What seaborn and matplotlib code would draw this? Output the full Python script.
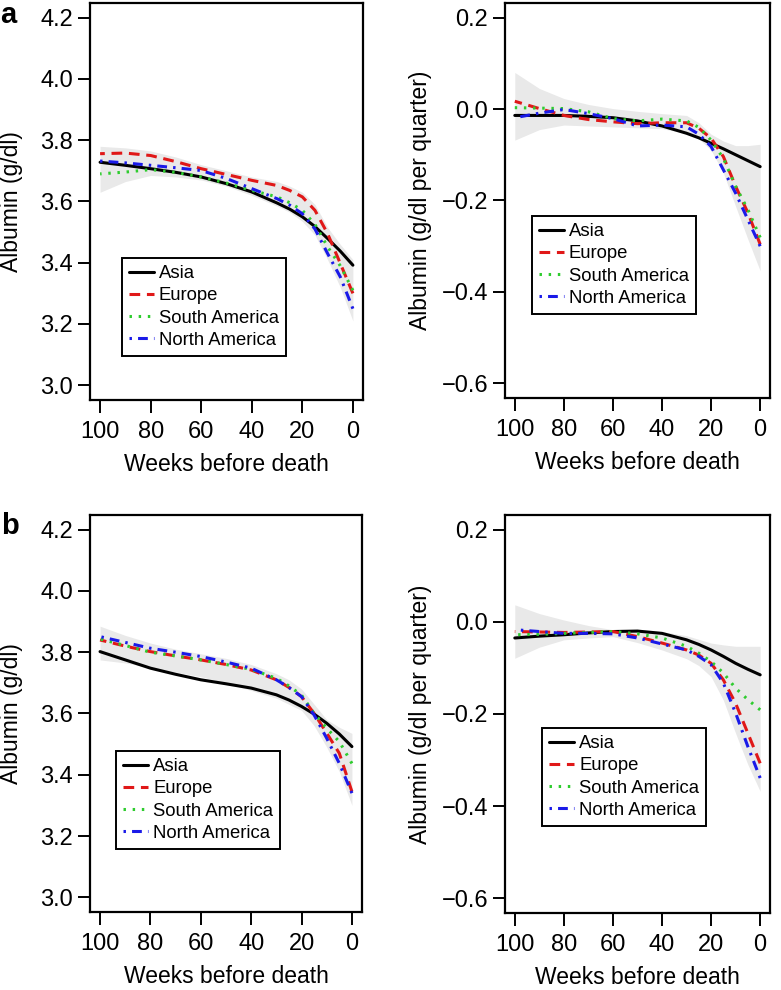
import pandas as pd
import matplotlib
matplotlib.use("Agg")
import matplotlib.pyplot as plt
import seaborn as sns

sns.set_style("ticks")
plt.rcParams["font.family"] = ["Liberation Sans", "DejaVu Sans"]
plt.rcParams.update({"text.color": "black", "axes.labelcolor": "black",
                     "xtick.color": "black", "ytick.color": "black"})

# weeks before death (x positions of the read-off points)
weeks = [100, 90, 80, 70, 60, 50, 40, 30, 25, 20, 15, 10, 5, 0]
regions = ["Asia", "Europe", "South America", "North America"]

# panel a, left: albumin level (g/dl)
a_lvl_asia = [3.728, 3.718, 3.707, 3.695, 3.680, 3.658, 3.631, 3.595, 3.575, 3.550, 3.518, 3.479, 3.438, 3.392]
a_lvl_europe = [3.756, 3.758, 3.750, 3.730, 3.707, 3.688, 3.669, 3.652, 3.636, 3.615, 3.571, 3.495, 3.398, 3.300]
a_lvl_samerica = [3.690, 3.696, 3.704, 3.695, 3.680, 3.660, 3.636, 3.615, 3.596, 3.571, 3.525, 3.452, 3.390, 3.310]
a_lvl_namerica = [3.732, 3.726, 3.718, 3.710, 3.701, 3.675, 3.642, 3.609, 3.588, 3.560, 3.510, 3.430, 3.354, 3.250]
a_lvl_lo = [3.63, 3.665, 3.685, 3.68, 3.67, 3.65, 3.62, 3.585, 3.565, 3.535, 3.49, 3.41, 3.32, 3.21]
a_lvl_hi = [3.78, 3.775, 3.765, 3.745, 3.72, 3.70, 3.68, 3.665, 3.65, 3.63, 3.59, 3.515, 3.46, 3.41]

# panel a, right: albumin slope (g/dl per quarter)
a_slp_asia = [-0.014, -0.014, -0.014, -0.016, -0.019, -0.026, -0.037, -0.053, -0.063, -0.075, -0.087, -0.100, -0.113, -0.126]
a_slp_europe = [0.017, 0.001, -0.014, -0.023, -0.028, -0.032, -0.030, -0.030, -0.042, -0.064, -0.104, -0.169, -0.227, -0.296]
a_slp_samerica = [0.003, 0.002, 0.001, -0.006, -0.021, -0.026, -0.022, -0.026, -0.040, -0.068, -0.108, -0.169, -0.220, -0.281]
a_slp_namerica = [-0.019, -0.009, -0.001, -0.010, -0.021, -0.037, -0.035, -0.039, -0.055, -0.082, -0.133, -0.184, -0.242, -0.300]
a_slp_lo = [-0.068, -0.045, -0.035, -0.037, -0.039, -0.041, -0.043, -0.053, -0.065, -0.090, -0.140, -0.213, -0.285, -0.354]
a_slp_hi = [0.080, 0.045, 0.023, 0.010, 0.001, -0.005, -0.010, -0.014, -0.030, -0.055, -0.070, -0.080, -0.080, -0.077]

# panel b, left
b_lvl_asia = [3.802, 3.775, 3.748, 3.728, 3.710, 3.697, 3.683, 3.661, 3.644, 3.623, 3.598, 3.568, 3.533, 3.492]
b_lvl_europe = [3.840, 3.820, 3.802, 3.788, 3.775, 3.760, 3.742, 3.710, 3.685, 3.655, 3.600, 3.536, 3.470, 3.345]
b_lvl_samerica = [3.843, 3.822, 3.800, 3.788, 3.775, 3.760, 3.744, 3.715, 3.690, 3.660, 3.600, 3.552, 3.508, 3.437]
b_lvl_namerica = [3.851, 3.832, 3.813, 3.800, 3.786, 3.768, 3.748, 3.710, 3.685, 3.655, 3.595, 3.519, 3.437, 3.340]
b_lvl_lo = [3.775, 3.765, 3.75, 3.735, 3.72, 3.70, 3.675, 3.65, 3.63, 3.61, 3.56, 3.49, 3.41, 3.30]
b_lvl_hi = [3.885, 3.855, 3.83, 3.81, 3.795, 3.78, 3.76, 3.73, 3.71, 3.68, 3.63, 3.58, 3.555, 3.535]

# panel b, right
b_slp_asia = [-0.035, -0.031, -0.028, -0.024, -0.021, -0.020, -0.025, -0.039, -0.049, -0.061, -0.075, -0.090, -0.103, -0.115]
b_slp_europe = [-0.021, -0.022, -0.023, -0.022, -0.021, -0.032, -0.046, -0.061, -0.072, -0.090, -0.126, -0.177, -0.242, -0.307]
b_slp_samerica = [-0.028, -0.027, -0.025, -0.023, -0.021, -0.026, -0.035, -0.053, -0.068, -0.086, -0.111, -0.144, -0.169, -0.191]
b_slp_namerica = [-0.017, -0.021, -0.025, -0.025, -0.026, -0.035, -0.048, -0.061, -0.075, -0.093, -0.133, -0.198, -0.271, -0.339]
b_slp_lo = [-0.079, -0.055, -0.039, -0.035, -0.032, -0.045, -0.061, -0.080, -0.095, -0.119, -0.170, -0.242, -0.310, -0.368]
b_slp_hi = [0.037, 0.018, 0.004, -0.008, -0.017, -0.019, -0.021, -0.030, -0.038, -0.046, -0.050, -0.053, -0.053, -0.053]

lvl_ticks = [3.0, 3.2, 3.4, 3.6, 3.8, 4.0, 4.2]
slp_ticks = [-0.6, -0.4, -0.2, 0.0, 0.2]
x_ticks = [100, 80, 60, 40, 20, 0]

palette = {"Asia": "black", "Europe": "#e01818", "South America": "#2ecc2e", "North America": "#1a1ae8"}
dashes = {"Asia": "", "Europe": (3.5, 2.2), "South America": (0.8, 2.2), "North America": (0.8, 2.0, 3.2, 2.0)}


def long_df(series):
    rows = []
    for name, vals in zip(regions, series):
        for w, v in zip(weeks, vals):
            rows.append({"weeks": w, "value": v, "region": name})
    return pd.DataFrame(rows)


def draw_panel(ax, series, lo, hi, ylim, yticks, ylabel, ylab_x, leg_xy):
    ax.fill_between(weeks, lo, hi, color="#e9e9e9", lw=0, zorder=1)
    sns.lineplot(data=long_df(series), x="weeks", y="value", hue="region",
                 style="region", palette=palette, dashes=dashes,
                 hue_order=regions, style_order=regions,
                 linewidth=2.2, legend=False, ax=ax, zorder=3)
    ax.set_xlim(104, -4)
    ax.set_ylim(*ylim)
    ax.set_xticks(x_ticks)
    ax.set_yticks(yticks)
    ax.set_yticklabels([f"{t:.1f}".replace("-", "\u2212") for t in yticks])
    ax.set_xlabel("Weeks before death", fontsize=16.5, labelpad=7)
    ax.set_ylabel(ylabel, fontsize=16.5)
    ax.yaxis.set_label_coords(ylab_x, 0.5)
    ax.tick_params(direction="out", length=9, width=1.4, labelsize=17)
    ax.tick_params(axis="x", pad=6)
    ax.tick_params(axis="y", pad=3)
    for s in ax.spines.values():
        s.set_linewidth(1.6)
        s.set_color("black")
    leg = ax.legend(handles=ax.lines[:4], labels=regions, loc="upper left",
                    bbox_to_anchor=leg_xy, borderaxespad=0, fontsize=13.3,
                    frameon=True, fancybox=False, edgecolor="black",
                    framealpha=1, handlelength=1.35, handletextpad=0.25,
                    labelspacing=0.28, borderpad=0.4)
    leg.get_frame().set_linewidth(1.4)


fig = plt.figure(figsize=(7.81, 9.9), dpi=100)
ax1 = fig.add_axes([0.1152, 0.596, 0.3496, 0.401])
ax2 = fig.add_axes([0.6466, 0.598, 0.3393, 0.399])
ax3 = fig.add_axes([0.1152, 0.0788, 0.3483, 0.401])
ax4 = fig.add_axes([0.6466, 0.0778, 0.3393, 0.402])

lvl_lim = (2.952, 4.248)
slp_lim = (-0.632, 0.232)

draw_panel(ax1, [a_lvl_asia, a_lvl_europe, a_lvl_samerica, a_lvl_namerica],
           a_lvl_lo, a_lvl_hi, lvl_lim, lvl_ticks, "Albumin (g/dl)", -0.245, (0.117, 0.358))
draw_panel(ax2, [a_slp_asia, a_slp_europe, a_slp_samerica, a_slp_namerica],
           a_slp_lo, a_slp_hi, slp_lim, slp_ticks, "Albumin (g/dl per quarter)", -0.275, (0.102, 0.461))
draw_panel(ax3, [b_lvl_asia, b_lvl_europe, b_lvl_samerica, b_lvl_namerica],
           b_lvl_lo, b_lvl_hi, lvl_lim, lvl_ticks, "Albumin (g/dl)", -0.245, (0.096, 0.406))
draw_panel(ax4, [b_slp_asia, b_slp_europe, b_slp_samerica, b_slp_namerica],
           b_slp_lo, b_slp_hi, slp_lim, slp_ticks, "Albumin (g/dl per quarter)", -0.275, (0.14, 0.465))

fig.text(0.0, 0.999, "a", fontsize=21, fontweight="bold", va="top", ha="left")
fig.text(0.002, 0.483, "b", fontsize=21, fontweight="bold", va="top", ha="left")

fig.savefig("out.png", dpi=100)
